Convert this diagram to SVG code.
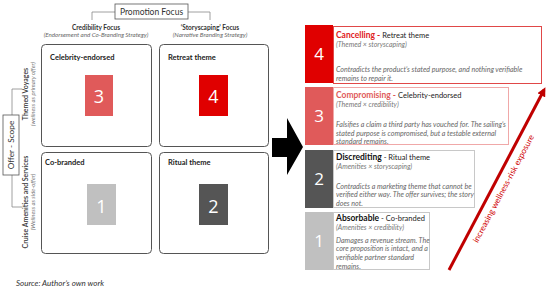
<svg xmlns="http://www.w3.org/2000/svg" width="550" height="291" viewBox="0 0 550 291">
<style>
text{font-family:Lato,"Liberation Sans",sans-serif;fill:#333}
.q{fill:#fff;stroke:#555;stroke-width:1}
.h{font-size:7.5px;font-weight:bold;fill:#222}
.hd{font-size:6.5px;font-weight:bold;fill:#333;text-anchor:middle}
.sub{font-size:6.2px;font-style:italic;fill:#666;text-anchor:middle}
.num{font-size:18px;fill:#fff;text-anchor:middle;font-family:"Open Sans",Lato,sans-serif}
.numr{font-size:17px;fill:#fff;text-anchor:middle;font-family:"Open Sans",Lato,sans-serif}
.brk{fill:none;stroke:#888;stroke-width:0.8}
.tt{font-size:8.5px;font-weight:bold}
.tn{font-size:7.5px;fill:#222}
.ti{font-size:7px;font-style:italic;fill:#777}
.bd{font-size:7.1px;font-style:italic;fill:#666}
.rl{font-size:7px;font-weight:600;fill:#333;text-anchor:middle}
.rs{font-size:6px;font-style:italic;fill:#777;text-anchor:middle}
</style>
<defs>
<marker id="ah" markerWidth="9" markerHeight="9" refX="6" refY="4.5" orient="auto" markerUnits="userSpaceOnUse" viewBox="0 0 9 9">
<path d="M0,0 L9,4.5 L0,9 z" fill="#c00000"/>
</marker>
</defs>
<rect width="550" height="291" fill="#fff"/>

<g id="promotion-focus">
<path class="brk" d="M115,12 H92 V20 M188,12 H210 V20"/>
<rect x="115" y="4" width="73" height="15" fill="#fff" stroke="#555" stroke-width="0.8"/>
<text x="151.5" y="14.8" font-size="8.5" text-anchor="middle">Promotion Focus</text>
<text class="hd" x="96" y="30">Credibility Focus</text>
<text class="sub" x="96" y="37">(Endorsement and Co-Branding Strategy)</text>
<text class="hd" x="210" y="30">‘Storyscaping’ Focus</text>
<text class="sub" x="210" y="37">(Narrative Branding Strategy)</text>
</g>

<g id="offer-scope">
<path class="brk" d="M22,89 H12 V115 M12,175 V207 H22"/>
<rect x="3" y="115" width="16" height="60" fill="#fff" stroke="#555" stroke-width="0.8"/>
<text x="0" y="0" font-size="8.3" text-anchor="middle" transform="translate(14.2,145) rotate(-90)">Offer - Scope</text>
<text class="rl" x="0" y="0" transform="translate(28,94) rotate(-90)">Themed Voyages</text>
<text class="rs" x="0" y="0" transform="translate(35,94) rotate(-90)">(wellness as primary offer)</text>
<text class="rl" x="0" y="0" transform="translate(28,202) rotate(-90)">Cruise Amenities and Services</text>
<text class="rs" x="0" y="0" transform="translate(35,202) rotate(-90)">(Wellness as side-offer)</text>
</g>

<g id="q-celebrity">
<rect class="q" x="41.5" y="44.5" width="110" height="102" rx="4"/>
<text class="h" x="50" y="60">Celebrity-endorsed</text>
<rect x="85" y="75" width="28" height="41" fill="#e05a5a"/>
<text class="num" x="99" y="103">3</text>
</g>
<g id="q-retreat">
<rect class="q" x="159.5" y="44.5" width="109" height="102" rx="4"/>
<text class="h" x="168" y="60">Retreat theme</text>
<rect x="199" y="75" width="29" height="41" fill="#e00000"/>
<text class="num" x="213.5" y="103">4</text>
</g>
<g id="q-cobranded">
<rect class="q" x="41.5" y="152.5" width="110" height="101" rx="4"/>
<text class="h" x="45" y="164.5">Co-branded</text>
<rect x="87" y="184" width="29" height="41" fill="#c0c0c0"/>
<text class="num" x="101.5" y="213">1</text>
</g>
<g id="q-ritual">
<rect class="q" x="159.5" y="152.5" width="109" height="101" rx="4"/>
<text class="h" x="168" y="164.5">Ritual theme</text>
<rect x="199" y="184" width="29" height="41" fill="#555"/>
<text class="num" x="213.5" y="213">2</text>
</g>

<text x="16" y="286" font-size="8" font-style="italic">Source: Author’s own work</text>

<g id="connectors">
<path d="M272,138 H287 V118 L303,147 L287,175 V157 H272 z" fill="#000"/>
<line x1="449" y1="270" x2="544" y2="90" stroke="#c00000" stroke-width="3" marker-end="url(#ah)"/>
<text x="0" y="0" font-size="8.3" text-anchor="middle" transform="translate(506,190) rotate(-62)" style="fill:#d00000">increasing wellness-risk exposure</text>
</g>

<g id="card-4">
<rect x="305" y="25" width="28" height="58" fill="#e00000"/>
<rect x="333.5" y="26.5" width="208" height="57" fill="#fff" stroke="#e04848" stroke-width="1"/>
<text class="numr" x="319" y="60">4</text>
<text x="336" y="38"><tspan class="tt" style="fill:#e02020">Cancelling - </tspan><tspan class="tn"> Retreat theme</tspan></text>
<text class="ti" x="336" y="46.5">(Themed × storyscaping)</text>
<text class="bd" x="336" y="71.5">Contradicts the product’s stated purpose, and nothing verifiable</text>
<text class="bd" x="336" y="80.5">remains to repair it.</text>
</g>
<g id="card-3">
<rect x="305" y="87" width="28" height="58" fill="#e05a5a"/>
<rect x="333.5" y="87.5" width="175" height="57" fill="#fff" stroke="#f0a8a8" stroke-width="1"/>
<text class="numr" x="319" y="122">3</text>
<text x="336" y="98"><tspan class="tt" style="fill:#e05a5a">Compromising - </tspan><tspan class="tn">Celebrity-endorsed</tspan></text>
<text class="ti" x="336" y="106.5">(Themed × credibility)</text>
<text class="bd" x="336" y="126.5">Falsifies a claim a third party has vouched for. The sailing’s</text>
<text class="bd" x="336" y="135.5">stated purpose is compromised, but a testable external</text>
<text class="bd" x="336" y="143.8">standard remains.</text>
</g>
<g id="card-2">
<rect x="305" y="150" width="28" height="58" fill="#555"/>
<rect x="333.5" y="150.5" width="141" height="57" fill="#fff" stroke="#c8c8c8" stroke-width="1"/>
<text class="numr" x="319" y="185">2</text>
<text x="336" y="160"><tspan class="tt" style="fill:#111">Discrediting</tspan><tspan class="tn"> - Ritual theme</tspan></text>
<text class="ti" x="336" y="168.5">(Amenities × storyscaping)</text>
<text class="bd" x="336" y="188.5">Contradicts a marketing theme that cannot be</text>
<text class="bd" x="336" y="197">verified either way. The offer survives; the story</text>
<text class="bd" x="336" y="205.5">does not.</text>
</g>
<g id="card-1">
<rect x="305" y="212" width="28" height="58" fill="#c0c0c0"/>
<rect x="333.5" y="212.5" width="96" height="57" fill="#fff" stroke="#c8c8c8" stroke-width="1"/>
<text class="numr" x="319" y="247">1</text>
<text x="336" y="221"><tspan class="tt" style="fill:#111">Absorbable</tspan><tspan class="tn"> - Co-branded</tspan></text>
<text class="ti" x="336" y="229.5">(Amenities × credibility)</text>
<text class="bd" x="336" y="242.5">Damages a revenue stream. The</text>
<text class="bd" x="336" y="251">core proposition is intact, and a</text>
<text class="bd" x="336" y="260">verifiable partner standard</text>
<text class="bd" x="336" y="268.5">remains.</text>
</g>
</svg>
